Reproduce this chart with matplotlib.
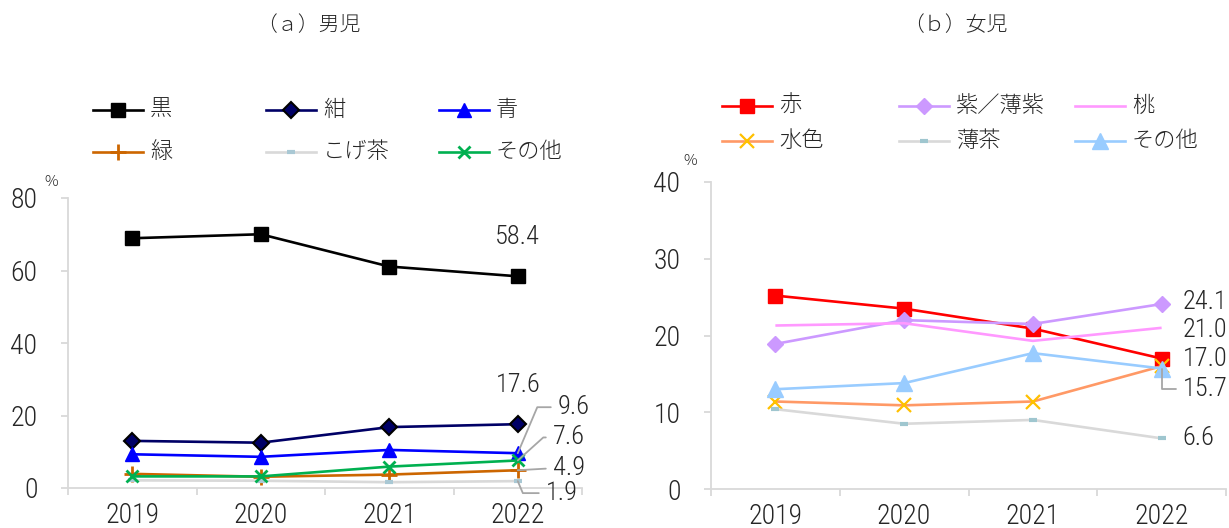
import matplotlib
matplotlib.use('Agg')
import matplotlib.pyplot as plt
from matplotlib.lines import Line2D
from matplotlib import font_manager
import numpy as np

years = ['2019', '2020', '2021', '2022']

# (a) boys
boys_labels = ['黒', '紺', '青', '緑', 'こげ茶', 'その他']
boys_black = [68.9, 70.0, 61.1, 58.4]
boys_navy = [13.0, 12.5, 16.8, 17.6]
boys_blue = [9.3, 8.6, 10.5, 9.6]
boys_green = [3.9, 3.1, 3.7, 4.9]
boys_dbrown = [2.1, 2.0, 1.6, 1.9]
boys_other = [3.2, 3.2, 5.9, 7.6]

# (b) girls
girls_labels = ['赤', '紫／薄紫', '桃', '水色', '薄茶', 'その他']
girls_red = [25.2, 23.5, 20.9, 17.0]
girls_purple = [18.9, 22.0, 21.5, 24.1]
girls_pink = [21.3, 21.6, 19.3, 21.0]
girls_aqua = [11.4, 10.9, 11.4, 16.0]
girls_lbrown = [10.4, 8.5, 9.0, 6.6]
girls_other = [13.0, 13.8, 17.7, 15.7]

# pick a narrow face for the numbers if there is one
have = {f.name for f in font_manager.fontManager.ttflist}
num_face, NUM_SIZE = 'Liberation Sans', 17
for name, size in [('Liberation Sans Narrow', 20), ('Roboto Condensed', 20),
                   ('Noto Sans Condensed', 19), ('Open Sans Condensed', 19)]:
    if name in have:
        num_face, NUM_SIZE = name, size
        break

NUM = [num_face, 'Noto Sans CJK JP', 'DejaVu Sans']
JP = ['Noto Sans CJK JP', 'DejaVu Sans']
plt.rcParams['font.family'] = NUM
plt.rcParams['font.weight'] = 'light'
TXT = '#262626'
GRID = '#d9d9d9'

W, H = 1229, 528
fig = plt.figure(figsize=(W / 100, H / 100), dpi=100)

def fx(x):
    return x / W

def fy(y):
    return 1 - y / H

axL = fig.add_axes([fx(68), fy(488), fx(582) - fx(68), fy(198) - fy(488)])
axR = fig.add_axes([fx(711), fy(489), fx(1226) - fx(711), fy(182) - fy(489)])

x = np.arange(len(years))

boys_series = [
    (boys_black, dict(color='black', marker='s', ms=10, mfc='black', mec='black')),
    (boys_navy, dict(color='#000066', marker='D', ms=8, mfc='#000066', mec='black', mew=1.5)),
    (boys_blue, dict(color='#0000ff', marker='^', ms=10, mfc='#0000ff', mec='#0000ff')),
    (boys_green, dict(color='#cc6600', marker='+', ms=11, mew=2, mec='#cc6600')),
    (boys_dbrown, dict(color=GRID, marker='_', ms=6, mew=3, mec='#a9c8d4')),
    (boys_other, dict(color='#00b050', marker='x', ms=9, mew=2, mec='#00b050')),
]
girls_series = [
    (girls_red, dict(color='#ff0000', marker='s', ms=10, mfc='#ff0000', mec='#ff0000')),
    (girls_purple, dict(color='#cc99ff', marker='D', ms=8, mfc='#cc99ff', mec='#cc99ff')),
    (girls_pink, dict(color='#ff99ff', marker='None')),
    (girls_aqua, dict(color='#ff9966', marker='x', ms=10, mew=1.6, mec='#ffc000')),
    (girls_lbrown, dict(color=GRID, marker='_', ms=6, mew=3, mec='#9fc6cf')),
    (girls_other, dict(color='#99ccff', marker='^', ms=11, mfc='#99ccff', mec='#99ccff')),
]

for ax, series in [(axL, boys_series), (axR, girls_series)]:
    for vals, st in series:
        ax.plot(x, vals, lw=1.9, solid_capstyle='butt', **st)


def style_axis(ax, ymax, step):
    ax.set_xlim(-0.5, 3.5)
    ax.set_ylim(0, ymax)
    ax.set_yticks(np.arange(0, ymax + 1, step))
    ax.set_xticks(x)
    ax.set_xticklabels(years)
    ax.set_xticks(np.arange(-0.5, 4, 1), minor=True)
    ax.tick_params(axis='x', which='major', length=0, pad=10, labelsize=NUM_SIZE, labelcolor=TXT)
    ax.tick_params(axis='x', which='minor', length=5, width=1.3, color=GRID)
    ax.tick_params(axis='y', length=5, width=1.3, color=GRID, pad=17, labelsize=NUM_SIZE, labelcolor=TXT)
    for s in ['top', 'right']:
        ax.spines[s].set_visible(False)
    for s in ['left', 'bottom']:
        ax.spines[s].set_color(GRID)
        ax.spines[s].set_linewidth(1.3)
    ax.patch.set_alpha(0)


style_axis(axL, 80, 20)
style_axis(axR, 40, 10)

# data labels, grey leader lines like Excel
lead = dict(arrowstyle='-', color='#a6a6a6', lw=1.3, shrinkA=3, shrinkB=0, relpos=(0, 0.5))
LBL_SIZE = NUM_SIZE - 1


def label(ax, vals, txt, dx, dy, ha='left', conn=None):
    kw = {}
    if conn is not None:
        kw['arrowprops'] = dict(lead, connectionstyle=conn)
    ax.annotate(txt, (3, vals[3]), xytext=(dx, dy), textcoords='offset pixels',
                ha=ha, va='center', fontsize=LBL_SIZE, color=TXT, annotation_clip=False, **kw)


label(axL, boys_black, '58.4', 0, 39, ha='center')
label(axL, boys_navy, '17.6', 0, 39, ha='center')
label(axL, boys_blue, '9.6', 40, 46, conn='angle,angleA=0,angleB=67,rad=0')
label(axL, boys_other, '7.6', 35, 23, conn='angle,angleA=0,angleB=42,rad=0')
label(axL, boys_green, '4.9', 35, 2, conn='arc3,rad=0')
label(axL, boys_dbrown, '1.9', 28, -12, conn='angle,angleA=0,angleB=-67,rad=0')

label(axR, girls_purple, '24.1', 21, 2)
label(axR, girls_pink, '21.0', 21, -2)
label(axR, girls_red, '17.0', 21, 0)
label(axR, girls_other, '15.7', 21, -20, conn='angle,angleA=0,angleB=90,rad=0')
label(axR, girls_lbrown, '6.6', 21, 0)

# unit marks
fig.text(fx(44), fy(182), '%', fontsize=11, color=TXT, family=JP, ha='left', va='center')
fig.text(fx(683), fy(161), '%', fontsize=11, color=TXT, family=JP, ha='left', va='center')

# titles
fig.text(fx(308), fy(25), '（ａ）男児', fontsize=15, color=TXT, family=JP, ha='center', va='center')
fig.text(fx(955), fy(25), '（ｂ）女児', fontsize=15, color=TXT, family=JP, ha='center', va='center')


# legends drawn by hand to get Excel-like fixed columns
def legend(series, labels, cols, rows):
    for i, ((vals, st), lab) in enumerate(zip(series, labels)):
        x0 = cols[i % 3]
        y0 = rows[i // 3]
        ln = Line2D([fx(x0), fx(x0 + 25), fx(x0 + 50)], [fy(y0)] * 3, transform=fig.transFigure,
                    lw=1.9, markevery=[1], **st)
        fig.add_artist(ln)
        fig.text(fx(x0 + 57), fy(y0), lab, fontsize=16, color=TXT, family=JP, ha='left', va='center')


legend(boys_series, boys_labels, [93, 266, 439], [110, 152])
legend(girls_series, girls_labels, [722, 899, 1075], [106, 141])

fig.savefig('out.png', dpi=100)
